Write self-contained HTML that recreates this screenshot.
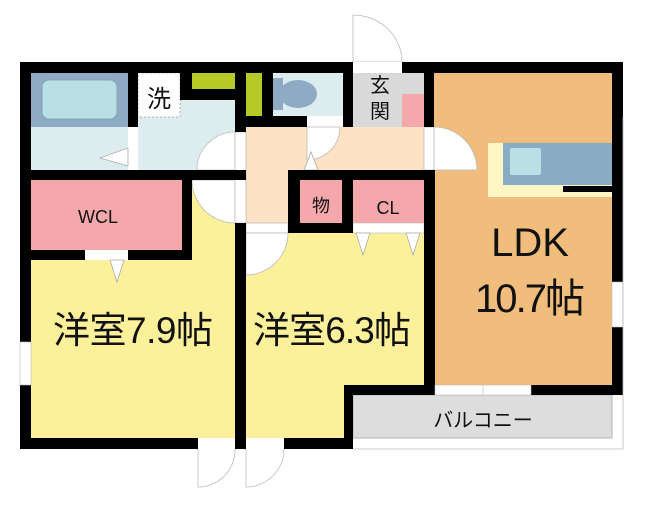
<!DOCTYPE html>
<html><head><meta charset="utf-8"><style>
html,body{margin:0;padding:0;background:#fff;width:652px;height:509px;overflow:hidden}
svg{display:block}
text{font-family:"Liberation Sans","Noto Sans CJK JP",sans-serif;fill:#111}
</style></head><body>
<svg width="652" height="509" viewBox="0 0 652 509" xmlns="http://www.w3.org/2000/svg">
<rect x="31" y="73" width="97" height="54" fill="#8fabc4"/>
<rect x="42" y="80" width="75" height="39" rx="7" fill="#b9e0e4" stroke="#7f9cb5" stroke-width="0.8"/>
<rect x="31" y="127" width="97" height="43" fill="#dcecef"/>
<rect x="138" y="73" width="97" height="97" fill="#dcecef"/>
<rect x="138" y="73" width="42" height="44" fill="#fff" stroke="#999" stroke-dasharray="2,2" stroke-width="0.8"/>
<rect x="128" y="127" width="10" height="43" fill="#fff"/>
<polygon points="128,148 128,166 100,158" fill="#fff" stroke="#aaa" stroke-width="0.8"/>
<rect x="273" y="73" width="80" height="43" fill="#dcecef"/>
<rect x="273" y="78" width="10" height="32" fill="#8fabc4"/>
<ellipse cx="298" cy="94" rx="19" ry="14" fill="#8fabc4"/>
<rect x="353" y="73" width="71" height="54" fill="#d9d9d9"/>
<rect x="402" y="94" width="22" height="43" fill="#f4a8ac"/>
<rect x="246" y="127" width="178" height="43" fill="#fde3c3"/>
<rect x="246" y="170" width="42" height="53" fill="#fde3c3"/>
<rect x="434" y="73" width="178" height="312" fill="#f0bd7c"/>
<rect x="488" y="143" width="124" height="54" fill="#fff6c4"/>
<rect x="503" y="143" width="109" height="42" fill="#8aabc4"/>
<rect x="510" y="148" width="31" height="27" rx="2" fill="#b9e0e4"/>
<rect x="563" y="186" width="49" height="6" fill="#000"/>
<rect x="31" y="180" width="151" height="70" fill="#f4a8ac"/>
<rect x="300" y="180" width="42" height="43" fill="#f4a8ac"/>
<rect x="353" y="180" width="71" height="43" fill="#f4a8ac"/>
<rect x="31" y="260" width="204" height="178" fill="#fdf09a"/>
<rect x="192" y="180" width="43" height="80" fill="#fdf09a"/>
<rect x="246" y="233" width="179" height="152" fill="#fdf09a"/>
<rect x="246" y="385" width="98" height="53" fill="#fdf09a"/>
<rect x="353" y="395" width="259" height="43" fill="#dddddd" stroke="#aaa" stroke-width="0.8"/>
<path d="M235,132 L235,170 L197,170 A38,38 0 0 1 235,132 Z" fill="#fff" stroke="#bbb" stroke-width="0.8"/>
<path d="M192,180 A43,43 0 0 0 235,223 L235,180 Z" fill="#fff" stroke="#bbb" stroke-width="0.8"/>
<rect x="235" y="132" width="11" height="91" fill="#fff" stroke="#bbb" stroke-width="0.8"/>
<rect x="246" y="223" width="42" height="10" fill="#fff" stroke="#bbb" stroke-width="0.8"/>
<path d="M246,233 L288,233 A42,42 0 0 1 246,275 Z" fill="#fff" stroke="#bbb" stroke-width="0.8"/>
<path d="M307,127 L340,127 A33,33 0 0 1 307,160 Z" fill="#fff" stroke="#bbb" stroke-width="0.8"/>
<polygon points="304,170 318,170 311,152" fill="#fff" stroke="#aaa" stroke-width="0.8"/>
<path d="M434,127 A43,43 0 0 1 477,170 L434,170 Z" fill="#fff" stroke="#bbb" stroke-width="0.8"/>
<rect x="424" y="127" width="10" height="43" fill="#fff" stroke="#bbb" stroke-width="0.8"/>
<path d="M353,62 L353,15 A49,47 0 0 1 402,62 Z" fill="#fff" stroke="#bbb" stroke-width="0.8"/>
<rect x="353" y="62" width="49" height="11" fill="#fff"/>
<rect x="85" y="250" width="43" height="10" fill="#fff"/>
<polygon points="110,260 124,260 117,282" fill="#fff" stroke="#aaa" stroke-width="0.8"/>
<rect x="353" y="223" width="71" height="10" fill="#fff" stroke="#bbb" stroke-width="0.6"/>
<polygon points="356,233 370,233 363,255" fill="#fff" stroke="#aaa" stroke-width="0.8"/>
<polygon points="406,233 420,233 413,255" fill="#fff" stroke="#aaa" stroke-width="0.8"/>
<path d="M198,449 L198,487 A37,37 0 0 0 235,449" fill="none" stroke="#bbb" stroke-width="0.8"/>
<path d="M246,449 L246,487 A38,38 0 0 0 284,449" fill="none" stroke="#bbb" stroke-width="0.8"/>
<g fill="#000">
<rect x="20" y="62" width="333" height="11"/>
<rect x="402" y="62" width="219" height="11"/>
<rect x="20" y="62" width="11" height="280"/>
<rect x="20" y="385" width="11" height="64"/>
<rect x="20" y="438" width="178" height="11"/>
<rect x="235" y="223" width="11" height="226"/>
<rect x="235" y="62" width="11" height="70"/>
<rect x="284" y="438" width="69" height="11"/>
<rect x="344" y="385" width="9" height="64"/>
<rect x="344" y="385" width="91" height="10"/>
<rect x="531" y="385" width="92" height="10"/>
<rect x="612" y="62" width="11" height="220"/>
<rect x="612" y="327" width="11" height="68"/>
<rect x="424" y="62" width="10" height="65"/>
<rect x="424" y="170" width="11" height="225"/>
<rect x="20" y="170" width="226" height="10"/>
<rect x="128" y="62" width="10" height="65"/>
<rect x="182" y="180" width="10" height="80"/>
<rect x="20" y="250" width="65" height="10"/>
<rect x="128" y="250" width="64" height="10"/>
<rect x="180" y="62" width="60" height="38"/>
<rect x="262" y="62" width="11" height="54"/>
<rect x="246" y="116" width="61" height="11"/>
<rect x="343" y="62" width="10" height="65"/>
<rect x="288" y="170" width="147" height="10"/>
<rect x="288" y="170" width="12" height="63"/>
<rect x="342" y="170" width="11" height="63"/>
<rect x="288" y="223" width="65" height="10"/>
</g>
<rect x="192" y="73" width="43" height="16" fill="#b5c927"/>
<rect x="246" y="73" width="16" height="43" fill="#b5c927"/>
<rect x="20" y="342" width="11" height="43" fill="#fff" stroke="#bbb" stroke-width="0.6"/>
<rect x="612" y="282" width="11" height="45" fill="#fff" stroke="#bbb" stroke-width="0.6"/>
<rect x="435" y="385" width="96" height="10" fill="#fff" stroke="#bbb" stroke-width="0.6"/>
<line x1="483" y1="385" x2="483" y2="395" stroke="#bbb" stroke-width="0.6"/>
<line x1="353" y1="449" x2="623" y2="449" stroke="#bbb" stroke-width="0.8"/>
<line x1="623" y1="117" x2="623" y2="449" stroke="#bbb" stroke-width="0.8"/>
<text x="159" y="107" font-size="24" text-anchor="middle">洗</text>
<text x="380" y="92" font-size="20" text-anchor="middle">玄</text>
<text x="380" y="118" font-size="20" text-anchor="middle">関</text>
<text x="98" y="223" font-size="18" text-anchor="middle">WCL</text>
<text x="321" y="212" font-size="18" text-anchor="middle">物</text>
<text x="388" y="214" font-size="18" text-anchor="middle">CL</text>
<text x="530" y="256" font-size="40" text-anchor="middle">LDK</text>
<text x="530" y="312" font-size="40" text-anchor="middle" textLength="110">10.7帖</text>
<text x="133" y="343" font-size="37" text-anchor="middle" textLength="160">洋室7.9帖</text>
<text x="332" y="343" font-size="37" text-anchor="middle" textLength="158">洋室6.3帖</text>
<text x="483" y="427" font-size="20" text-anchor="middle">バルコニー</text>
</svg>
</body></html>
